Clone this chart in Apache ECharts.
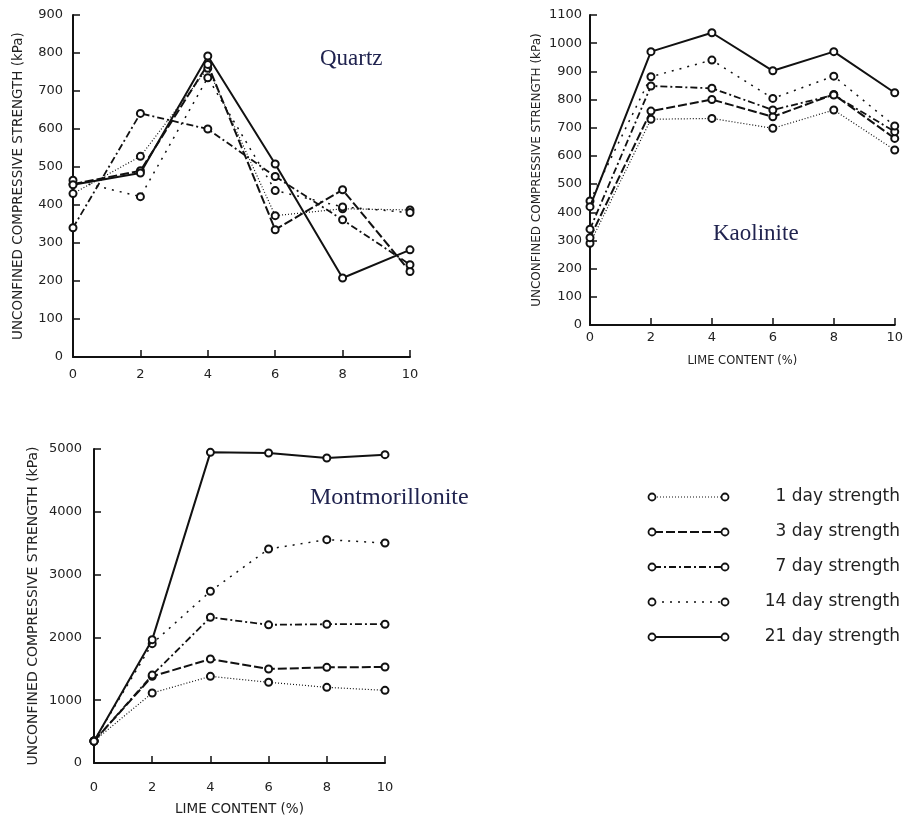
<!DOCTYPE html>
<html>
<head>
<meta charset="utf-8">
<title>Unconfined compressive strength vs lime content</title>
<script src="https://cdn.jsdelivr.net/npm/echarts@6/dist/echarts.min.js"></script>
<style>
  html, body { margin: 0; padding: 0; background: #fff; }
  #chart { width: 906px; height: 820px; }
</style>
</head>
<body>
<div id="chart"></div>
<script>
// lime content (%) on every x axis
const limeContent = [0, 2, 4, 6, 8, 10];
const xTicks = ['0', '2', '4', '6', '8', '10'];

// curing time legend
const curingNames = ['1 day strength', '3 day strength', '7 day strength', '14 day strength', '21 day strength'];

// Quartz (kPa)
const quartz1 = [430, 528, 760, 372, 390, 387];
const quartz3 = [455, 490, 770, 335, 440, 225];
const quartz7 = [340, 641, 600, 475, 361, 243];
const quartz14 = [465, 422, 735, 438, 395, 380];
const quartz21 = [453, 484, 792, 508, 208, 282];

// Kaolinite (kPa)
const kaolinite1 = [290, 730, 733, 698, 763, 621];
const kaolinite3 = [310, 759, 800, 739, 818, 662];
const kaolinite7 = [340, 848, 840, 763, 816, 686];
const kaolinite14 = [440, 881, 940, 804, 883, 706];
const kaolinite21 = [420, 970, 1037, 902, 970, 824];

// Montmorillonite (kPa)
const montmorillonite1 = [350, 1115, 1380, 1285, 1205, 1157];
const montmorillonite3 = [350, 1380, 1656, 1497, 1523, 1529];
const montmorillonite7 = [350, 1400, 2320, 2200, 2210, 2210];
const montmorillonite14 = [350, 1900, 2734, 3408, 3556, 3503];
const montmorillonite21 = [345, 1964, 4947, 4936, 4857, 4910];

let chart = echarts.init(document.getElementById('chart'));

// line look for each curing time: 1, 3, 7, 14, 21 days
const lineStyles = [
  { width: 1.2, type: [1, 2] },
  { width: 2, type: [9, 3] },
  { width: 1.8, type: [7, 3, 2, 3] },
  { width: 1.5, type: [2, 6] },
  { width: 2, type: 'solid' }
];

const yName = 'UNCONFINED COMPRESSIVE STRENGTH (kPa)';
const ink = '#111';

function xAxisFor(gridIndex, labelMargin, name, nameGap, nameSize) {
  return {
    type: 'value', gridIndex: gridIndex, min: 0, max: 10, interval: 2,
    name: name, nameLocation: 'middle', nameGap: nameGap,
    nameTextStyle: { color: '#222', fontFamily: 'DejaVu Sans', fontSize: nameSize },
    axisLine: { lineStyle: { color: ink, width: 2 } },
    axisTick: { inside: true, length: 7, lineStyle: { color: ink, width: 1.5 } },
    splitLine: { show: false },
    axisLabel: {
      color: '#222', fontFamily: 'DejaVu Sans', fontSize: 13, margin: labelMargin,
      formatter: function (v) { return xTicks[limeContent.indexOf(v)]; }
    }
  };
}

function yAxisFor(gridIndex, max, interval, labelMargin, nameGap, nameSize) {
  return {
    type: 'value', gridIndex: gridIndex, min: 0, max: max, interval: interval,
    name: yName, nameLocation: 'middle', nameGap: nameGap, nameRotate: 90,
    nameTextStyle: { color: '#222', fontFamily: 'DejaVu Sans', fontSize: nameSize },
    axisLine: { show: true, lineStyle: { color: ink, width: 2 } },
    axisTick: { show: true, inside: true, length: 7, lineStyle: { color: ink, width: 1.5 } },
    splitLine: { show: false },
    axisLabel: {
      color: '#222', fontFamily: 'DejaVu Sans', fontSize: 13, margin: labelMargin,
      formatter: function (v) { return String(v); }
    }
  };
}

function seriesFor(index, values) {
  return values.map(function (vals, k) {
    return {
      name: curingNames[k],
      type: 'line',
      xAxisIndex: index,
      yAxisIndex: index,
      data: limeContent.map(function (x, i) { return [x, vals[i]]; }),
      symbol: 'emptyCircle',
      symbolSize: 7,
      itemStyle: { color: ink, borderColor: ink, borderWidth: 1.5 },
      lineStyle: { color: ink, width: lineStyles[k].width, type: lineStyles[k].type },
      emphasis: { disabled: true },
      animation: false,
      z: 2 + k
    };
  });
}

// legend drawn by hand so the circles sit at both ends of the sample line
let legendItems = [];
curingNames.forEach(function (name, k) {
  let y = 497 + k * 35;
  let ls = lineStyles[k];
  legendItems.push({
    type: 'line',
    shape: { x1: 654, y1: y, x2: 723, y2: y },
    style: { stroke: ink, lineWidth: ls.width, lineDash: ls.type === 'solid' ? null : ls.type }
  });
  [652, 725].forEach(function (cx) {
    legendItems.push({
      type: 'circle',
      shape: { cx: cx, cy: y, r: 3.5 },
      style: { fill: '#fff', stroke: ink, lineWidth: 1.8 },
      z: 10
    });
  });
  legendItems.push({
    type: 'text',
    style: {
      text: name, x: 900, y: y, textAlign: 'right', textVerticalAlign: 'middle',
      font: '17px "DejaVu Sans"', fill: '#222'
    }
  });
});

let option = {
  backgroundColor: '#fff',
  animation: false,
  title: [
    { text: 'Quartz', left: 315, top: 42,
      textStyle: { fontFamily: 'Liberation Serif', fontSize: 23, fontWeight: 'normal', color: '#20234f' } },
    { text: 'Kaolinite', left: 708, top: 217,
      textStyle: { fontFamily: 'Liberation Serif', fontSize: 23, fontWeight: 'normal', color: '#20234f' } },
    { text: 'Montmorillonite', left: 305, top: 481,
      textStyle: { fontFamily: 'Liberation Serif', fontSize: 24, fontWeight: 'normal', color: '#20234f' } }
  ],
  grid: [
    { left: 73, top: 15, width: 337, height: 342 },
    { left: 590, top: 15, width: 306, height: 310 },
    { left: 94, top: 449, width: 291, height: 314 }
  ],
  xAxis: [
    xAxisFor(0, 11, '', 0, 11),
    xAxisFor(1, 6, 'LIME CONTENT (%)', 30, 11.5),
    xAxisFor(2, 18, 'LIME CONTENT (%)', 39, 13.5)
  ],
  yAxis: [
    yAxisFor(0, 900, 100, 10, 48, 13.5),
    yAxisFor(1, 1100, 100, 8, 47, 12),
    yAxisFor(2, 5000, 1000, 12, 54, 14)
  ],
  graphic: legendItems,
  series: [].concat(
    seriesFor(0, [quartz1, quartz3, quartz7, quartz14, quartz21]),
    seriesFor(1, [kaolinite1, kaolinite3, kaolinite7, kaolinite14, kaolinite21]),
    seriesFor(2, [montmorillonite1, montmorillonite3, montmorillonite7, montmorillonite14, montmorillonite21])
  )
};

chart.setOption(option);
</script>
</body>
</html>
